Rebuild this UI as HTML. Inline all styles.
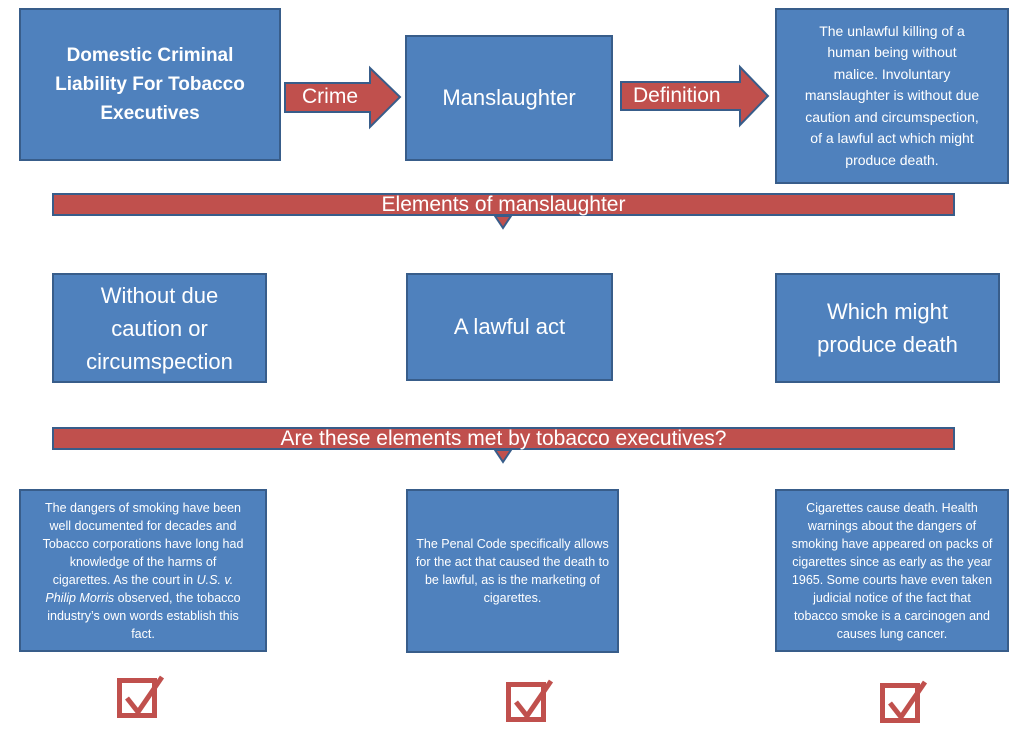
<!DOCTYPE html>
<html><head><meta charset="utf-8"><style>
body{margin:0;width:1024px;height:747px;background:#fff;position:relative;overflow:hidden;font-family:"Liberation Sans",sans-serif;}
.b{position:absolute;background:#4f81bd;border:2px solid #385d8a;box-sizing:border-box;color:#fff;display:flex;align-items:center;justify-content:center;text-align:center;}
.bar{position:absolute;background:#c0504d;border:2px solid #385d8a;box-sizing:border-box;color:#fff;text-align:center;font-size:21px;line-height:19px;}
.chk{position:absolute;width:40px;height:40px;border:5px solid #c0504d;box-sizing:border-box;}
.t{position:absolute;color:#fff;font-size:21px;}
svg{position:absolute;left:0;top:0}
</style></head><body>
<svg width="1024" height="747">
<polygon points="285,83 370,83 370,68 400,97 370,127 370,112 285,112" fill="#c0504d" stroke="#385d8a" stroke-width="2"/>
<polygon points="621,82 740,82 740,67 768,96 740,125 740,110 621,110" fill="#c0504d" stroke="#385d8a" stroke-width="2"/>
<polygon points="495,216 511,216 503,228" fill="#c0504d" stroke="#385d8a" stroke-width="2"/>
<polygon points="495,450 511,450 503,462" fill="#c0504d" stroke="#385d8a" stroke-width="2"/>
</svg>
<div class="t" style="left:302px;top:85px;">Crime</div>
<div class="t" style="left:633px;top:84px;">Definition</div>
<div class="b" style="left:19px;top:8px;width:262px;height:153px;font-weight:bold;font-size:19px;line-height:29px;"><div>Domestic Criminal<br>Liability For Tobacco<br>Executives</div></div>
<div class="b" style="left:405px;top:35px;width:208px;height:126px;font-size:22px;"><div>Manslaughter</div></div>
<div class="b" style="left:775px;top:8px;width:234px;height:176px;font-size:14px;line-height:21.5px;"><div>The unlawful killing of a<br>human being without<br>malice. Involuntary<br>manslaughter is without due<br>caution and circumspection,<br>of a lawful act which might<br>produce death.</div></div>
<div class="bar" style="left:52px;top:193px;width:903px;height:23px;">Elements of manslaughter</div>
<div class="b" style="left:52px;top:273px;width:215px;height:110px;font-size:22px;line-height:33px;"><div>Without due<br>caution or<br>circumspection</div></div>
<div class="b" style="left:406px;top:273px;width:207px;height:108px;font-size:22px;"><div>A lawful act</div></div>
<div class="b" style="left:775px;top:273px;width:225px;height:110px;font-size:22px;line-height:33px;"><div>Which might<br>produce death</div></div>
<div class="bar" style="left:52px;top:427px;width:903px;height:23px;">Are these elements met by tobacco executives?</div>
<div class="b" style="left:19px;top:489px;width:248px;height:163px;font-size:12.5px;line-height:18px;"><div>The dangers of smoking have been<br>well documented for decades and<br>Tobacco corporations have long had<br>knowledge of the harms of<br>cigarettes. As the court in <i>U.S. v.</i><br><i>Philip Morris</i> observed, the tobacco<br>industry’s own words establish this<br>fact.</div></div>
<div class="b" style="left:406px;top:489px;width:213px;height:164px;font-size:12.5px;line-height:18px;"><div>The Penal Code specifically allows<br>for the act that caused the death to<br>be lawful, as is the marketing of<br>cigarettes.</div></div>
<div class="b" style="left:775px;top:489px;width:234px;height:163px;font-size:12.5px;line-height:18px;"><div>Cigarettes cause death. Health<br>warnings about the dangers of<br>smoking have appeared on packs of<br>cigarettes since as early as the year<br>1965. Some courts have even taken<br>judicial notice of the fact that<br>tobacco smoke is a carcinogen and<br>causes lung cancer.</div></div>
<div class="chk" style="left:117px;top:678px;"></div>
<div class="chk" style="left:506px;top:682px;"></div>
<div class="chk" style="left:880px;top:683px;"></div>
<svg width="1024" height="747">
<g fill="none" stroke="#c0504d" stroke-width="5" stroke-linejoin="miter">
<polyline points="127,698 138,712 162,677"/>
<polyline points="516,702 527,716 551,681"/>
<polyline points="890,703 901,717 925,682"/>
</g>
</svg>
</body></html>
